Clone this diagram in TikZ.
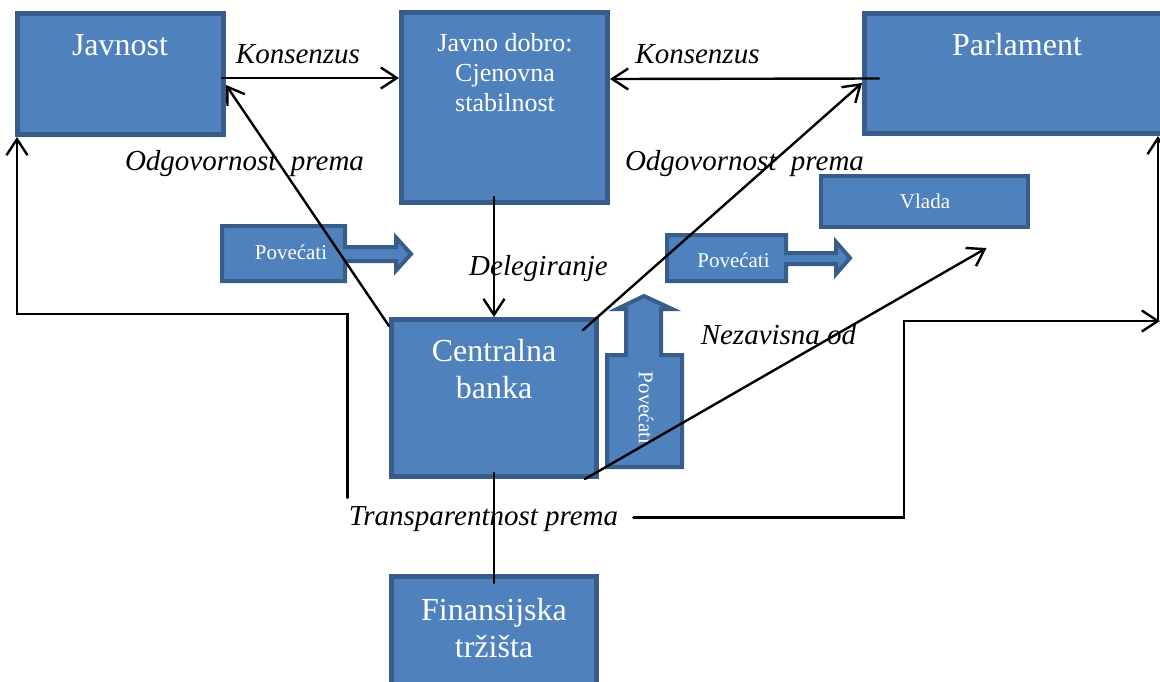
\documentclass[tikz,border=0pt]{standalone}
\usepackage{fontspec}
\setmainfont{Liberation Serif}
\usetikzlibrary{arrows.meta}
\definecolor{boxblue}{HTML}{4F81BD}
\definecolor{boxedge}{HTML}{385D8A}

\begin{document}
\begin{tikzpicture}[line cap=round, line join=round, x=1pt, y=-1pt,
    box/.style={draw=boxedge, fill=boxblue, line width=5pt, line cap=butt, line join=miter, inner sep=0pt},
    boxtext/.style={text=white, font=\fontsize{32}{37}\selectfont, align=center, inner sep=0pt},
    smalltext/.style={text=white, font=\fontsize{21}{25}\selectfont, inner sep=0pt},
    lbl/.style={font=\fontsize{29}{34}\selectfont\itshape, inner sep=0pt, anchor=base},
    conn/.style={line width=2.4pt, line join=miter, -{Straight Barb[length=16pt,width=21pt]}},
    bigarrow/.style={draw=boxedge, fill=boxblue, line width=4pt, line join=miter}]

                \useasboundingbox (0,0) rectangle (1160,681);
                \clip (0,0) rectangle (1160,681);

                \node[box, minimum width=206pt, minimum height=121pt] (javnost) at (120.5,74) {};
                \node[box, minimum width=206pt, minimum height=190pt] (dobro) at (504.5,107.5) {};
                \node[box, minimum width=305pt, minimum height=120pt] (parlament) at (1017,73.5) {};
                \node[box, line width=4pt, minimum width=207pt, minimum height=51pt] (vlada) at (924.5,201.5) {};
                \node[box, minimum width=205pt, minimum height=157pt] (centralna) at (494,398) {};
                \node[box, minimum width=205pt, minimum height=127pt] (finansije) at (494,640) {};

                \node[boxtext, anchor=base] (javnostT) at (120,55) {Javnost};
                \node[boxtext, font=\fontsize{26}{30}\selectfont] (dobroT) at (505,73) {Javno dobro:\\Cjenovna\\stabilnost};
                \node[boxtext, anchor=base] (parlamentT) at (1017,55) {Parlament};
                \node[smalltext, anchor=base] (vladaT) at (925,208) {Vlada};
                \node[boxtext] (centralnaT) at (494,369.5) {Centralna\\banka};
                \node[boxtext] (finansijeT) at (494,628.5) {Finansijska\\tržišta};

                \draw[bigarrow] (222,226) -- (345,226) -- (345,247) -- (396,247) -- (396,237.5) -- (411,254)
                    -- (396,270.5) -- (396,261) -- (345,261) -- (345,281) -- (222,281) -- cycle;
                \draw[bigarrow] (667,235) -- (786,235) -- (786,253) -- (836,253) -- (836,242) -- (850,258)
                    -- (836,274) -- (836,264) -- (786,264) -- (786,281) -- (667,281) -- cycle;
                \draw[bigarrow] (607,467) -- (607,355) -- (626,355) -- (626,309) -- (617,309) -- (644,296)
                    -- (672,309) -- (661,309) -- (661,355) -- (682,355) -- (682,467) -- cycle;
                \node[smalltext, anchor=base] (povecati1) at (291,259) {Povećati};
                \node[smalltext, anchor=base] (povecati2) at (733.5,267) {Povećati};
                \node[smalltext, rotate=-90] (povecati3) at (646,408) {Povećati};

                \node[lbl] (konsL) at (298,63) {Konsenzus};
                \node[lbl] (konsR) at (697.5,63) {Konsenzus};
                \node[lbl] (odgL) at (244.5,170) {Odgovornost\ \ prema};
                \node[lbl] (odgR) at (744.5,170) {Odgovornost\ \ prema};
                \node[lbl] (deleg) at (538.5,275) {Delegiranje};
                \node[lbl] (nezav) at (778.5,344) {Nezavisna od};
                \node[lbl] (transp) at (483.5,525) {Transparentnost prema};

                \coordinate (bend) at (904,321);
                \coordinate (rand) at (1160,321);
                \coordinate (randup) at (1158,321);

                \draw[conn] ([xshift=-4pt,yshift=-4pt]javnost.east) -- ([yshift=29.5pt]dobro.west);
                \draw[conn] ([xshift=17pt,yshift=-5pt]parlament.west) -- ([yshift=28.5pt]dobro.east);
                \draw[conn] (centralna.north |- dobro.south) ++(0,-8) -- (centralna.north);
                \draw[conn] ([yshift=-9pt]centralna.north west) -- ([yshift=-11pt]javnost.east);
                \draw[conn] ([xshift=-16pt,yshift=-13pt]centralna.north east) -- ([yshift=-9.5pt]parlament.west);
                \draw[conn] ([xshift=-14pt]centralna.south east) -- ([xshift=62pt,yshift=-19pt]vlada.south);
                \draw[line width=2.4pt] ([yshift=6pt]centralna.south) -- ([yshift=-9pt]finansije.north);

                \draw[conn] ([xshift=-1pt,yshift=8pt]transp.north west) -- ++(0,-184) -| ([xshift=2pt]javnost.south west);
                \draw[conn] ([xshift=15pt,yshift=1pt]transp.east) -| (bend) -- (rand);
                \draw[conn] (randup) -- (randup |- parlament.south);

            \end{tikzpicture}
\end{document}
